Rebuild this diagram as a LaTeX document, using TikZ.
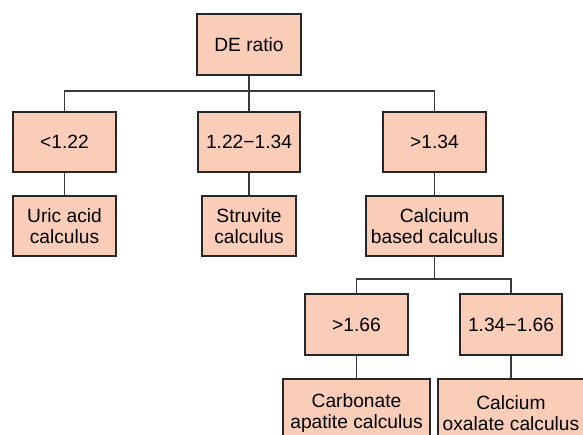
\documentclass[tikz,border=0pt]{standalone}
\usepackage{fontspec}
\setmainfont{Liberation Sans}
\definecolor{peach}{HTML}{FACDB8}
\definecolor{edgegray}{HTML}{3A3A3A}
\tikzset{
  ratiobox/.style = {draw=black!85, line width=0.9pt, fill=peach, align=center,
    inner sep=0pt, font=\fontsize{9.6}{10.4}\selectfont},
  branch/.style = {draw=edgegray, line width=0.55pt},
}

\begin{document}
\begin{tikzpicture}[x=0.5pt, y=-0.5pt]
    \useasboundingbox[clip] (0,0) rectangle (583,434);
    % top level
    \node[ratiobox, minimum width=52pt, minimum height=30.5pt] (root) at (249, 44.5) {DE ratio};
    \coordinate (split1) at (249, 91);

    % ratio ranges
    \node[ratiobox, minimum width=51.5pt, minimum height=30pt] (lt122) at (64.5, 142) {<1.22};
    \node[ratiobox, minimum width=51pt, minimum height=30pt] (mid134) at (249, 142) {1.22−1.34};
    \node[ratiobox, minimum width=51.5pt, minimum height=30pt] (gt134) at (434.5, 142) {>1.34};

    % calculus types
    \node[ratiobox, minimum width=51.5pt, minimum height=30pt] (uric) at (64.5, 226) {Uric acid\\ calculus};
    \node[ratiobox, minimum width=47pt, minimum height=30pt] (struvite) at (249, 226) {Struvite\\ calculus};
    \node[ratiobox, minimum width=68.5pt, minimum height=30pt] (calcium) at (434.5, 226) {Calcium\\ based calculus};
    \coordinate (split2) at (434.5, 279);

    % calcium split
    \node[ratiobox, minimum width=51.5pt, minimum height=30.5pt] (gt166) at (356.5, 324.5) {>1.66};
    \node[ratiobox, minimum width=51pt, minimum height=30.5pt] (mid166) at (511, 324.5) {1.34−1.66};
    \node[ratiobox, minimum width=73.5pt, minimum height=34pt] (carbonate) at (356.5, 413) {Carbonate\\ apatite calculus};
    \node[ratiobox, minimum width=73pt, minimum height=34pt] (oxalate) at (511, 413) {Calcium\\ oxalate calculus};

    \draw[branch] (root) -- (mid134);
    \draw[branch] (lt122.north) |- (split1) -| (gt134.north);
    \draw[branch] (lt122) -- (uric);
    \draw[branch] (mid134) -- (struvite);
    \draw[branch] (gt134) -- (calcium);
    \draw[branch] (calcium) -- (split2);
    \draw[branch] (gt166.north) |- (split2) -| (mid166.north);
    \draw[branch] (gt166) -- (carbonate);
    \draw[branch] (mid166) -- (oxalate);
\end{tikzpicture}
\end{document}
